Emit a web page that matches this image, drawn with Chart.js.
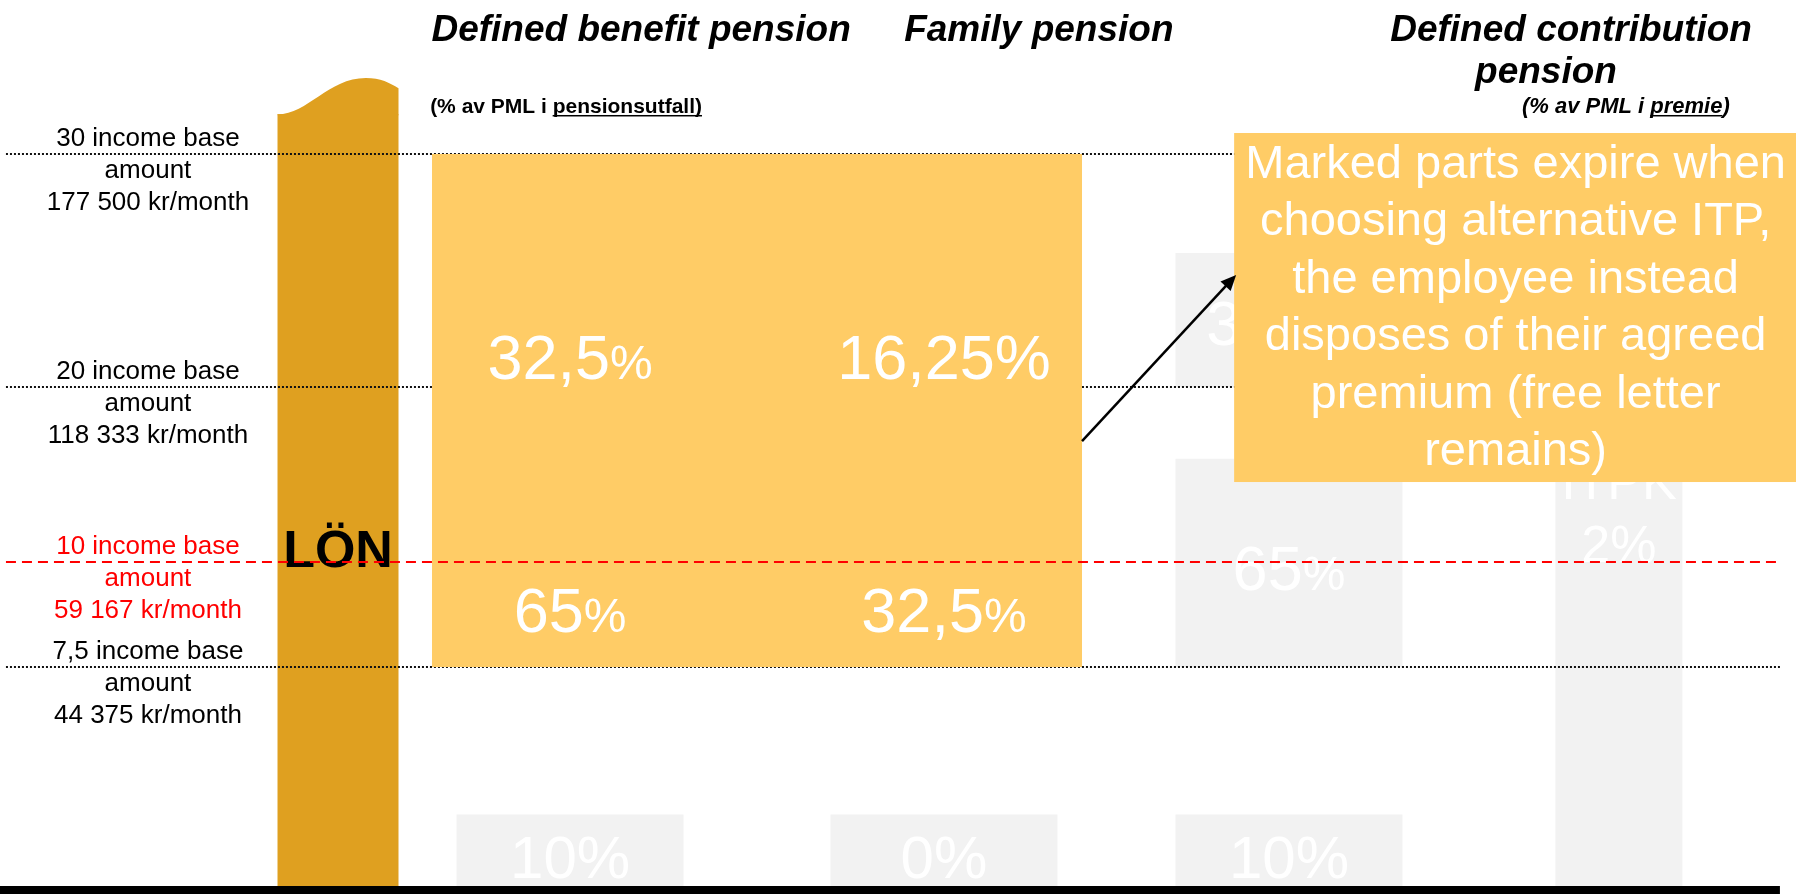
<!DOCTYPE html>
<html>
<head>
<meta charset="utf-8">
<title>Alternative ITP</title>
<script src="https://cdn.jsdelivr.net/npm/chart.js@4.4.1/dist/chart.umd.min.js"></script>
<style>
  html, body { margin: 0; padding: 0; background: #fff; }
  #wrap { position: relative; width: 1796px; height: 894px; }
</style>
</head>
<body>
<div id="wrap"><canvas id="chart"></canvas></div>
<script>
// columns of the slide (x = 0..4)
const columns = ["LÖN", "Defined benefit pension", "Family pension", "Defined contribution pension", "ITPK"];

// salary levels in income base amounts, and the monthly salary for each
const levels = [30, 20, 10, 7.5];
const levelSalary = ["177 500 kr/month", "118 333 kr/month", "59 167 kr/month", "44 375 kr/month"];

// floating bars, in income base amounts
const salaryRange = [0, 31.7];
const expiringRange = [7.5, 30];
const lowBandRange = [0, 2.45];
const dcUpperRange = [20, 25.75];
const dcLowerRange = [7.5, 15.9];
const itpkRange = [0, 16];

// rates written on the boxes (DB, family, DC)
const upperRates = ["32,5%", "16,25%", "32,5%"];  // 20-30 income base amounts
const lowerRates = ["65%", "32,5%", "65%"];        // 7.5-20
const lowRates = ["10%", "0%", "10%"];             // under 7.5
const itpkRate = "2%";

const subtitleDB = ["(% av PML i ", "pensionsutfall)", ""];
const subtitleDC = ["(% av PML i ", "premie", ")"];
const noteLines = [
  "Marked parts expire when",
  "choosing alternative ITP,",
  "the employee instead",
  "disposes of their agreed",
  "premium (free letter",
  "remains)"
];

const FONT = '"Liberation Sans", Arial, sans-serif';
const ORANGE = "#FFCC66";
const GOLD = "#DFA020";
const GHOST = "#F2F2F2";

// linear scale whose value -> pixel mapping is piecewise (the slide is schematic)
class SchematicScale extends Chart.LinearScale {
  static id = "schematic";
  static defaults = {};
  _frac(v) {
    const s = this.options.stops;
    let i = 1;
    while (i < s.length - 1 && v > s[i][0]) i++;
    const [v0, f0] = s[i - 1];
    const [v1, f1] = s[i];
    return f0 + (v - v0) * (f1 - f0) / (v1 - v0);
  }
  getPixelForValue(v) {
    const f = this._frac(v);
    return this.isHorizontal() ? this.left + f * this.width : this.bottom - f * this.height;
  }
  getValueForPixel(p) {
    const f = this.isHorizontal() ? (p - this.left) / this.width : (this.bottom - p) / this.height;
    const s = this.options.stops;
    let i = 1;
    while (i < s.length - 1 && f > s[i][1]) i++;
    const [v0, f0] = s[i - 1];
    const [v1, f1] = s[i];
    return v0 + (f - f0) * (v1 - v0) / (f1 - f0);
  }
}
Chart.register(SchematicScale);

function pct(ctx, text, x, y, size, smallPct, color) {
  const num = text.replace("%", "");
  const pSize = smallPct ? Math.round(size * 0.76) : size;
  ctx.font = size + "px " + FONT;
  const wNum = ctx.measureText(num).width;
  ctx.font = pSize + "px " + FONT;
  const wPct = ctx.measureText("%").width;
  const left = x - (wNum + wPct) / 2;
  ctx.fillStyle = color;
  ctx.textAlign = "left";
  ctx.textBaseline = "alphabetic";
  ctx.font = size + "px " + FONT;
  ctx.fillText(num, left, y);
  ctx.font = pSize + "px " + FONT;
  ctx.fillText("%", left + wNum, y);
}

// text pieces [plain, underlined, plain]
function underlined(ctx, parts, x, y, align) {
  const w = parts.map(p => ctx.measureText(p).width);
  const total = w[0] + w[1] + w[2];
  let left = align === "right" ? x - total : x;
  ctx.textAlign = "left";
  ctx.fillText(parts[0], left, y);
  ctx.fillText(parts[1], left + w[0], y);
  ctx.fillText(parts[2], left + w[0] + w[1], y);
  ctx.fillRect(left + w[0], y + 2, w[1], 1.5);
}

const slide = {
  id: "slide",
  afterDatasetDraw(chart, args) {
    if (chart.data.datasets[args.index].key !== "salary") return;
    // wavy top of the salary bar
    const bar = chart.getDatasetMeta(args.index).data[0];
    const ctx = chart.ctx;
    const W = bar.width, L = bar.x - W / 2, R = bar.x + W / 2, T = bar.y;
    ctx.save();
    ctx.fillStyle = GOLD;
    ctx.beginPath();
    ctx.moveTo(L, T + 1);
    ctx.lineTo(L, T);
    ctx.bezierCurveTo(L + 0.25 * W, T, L + 0.42 * W, T - 0.3 * W, L + 0.73 * W, T - 0.3 * W);
    ctx.bezierCurveTo(L + 0.85 * W, T - 0.3 * W, L + 0.93 * W, T - 0.26 * W, R, T - 0.215 * W);
    ctx.lineTo(R, T + 1);
    ctx.closePath();
    ctx.fill();
    ctx.restore();
  },
  beforeDatasetDraw(chart, args, o) {
    if (chart.data.datasets[args.index].key !== "expiring") return;
    // dotted salary-level lines, under the orange block
    const ctx = chart.ctx, x = chart.scales.x, y = chart.scales.y;
    ctx.save();
    ctx.strokeStyle = "#111";
    ctx.lineWidth = 2;
    ctx.setLineDash([2, 2]);
    levels.forEach(l => {
      if (l === 10) return;
      const py = Math.round(y.getPixelForValue(l));
      ctx.beginPath();
      ctx.moveTo(x.getPixelForValue(o.lineFrom), py);
      ctx.lineTo(x.getPixelForValue(o.lineTo), py);
      ctx.stroke();
    });
    ctx.restore();
  },
  afterDatasetsDraw(chart, args, o) {
    const ctx = chart.ctx, x = chart.scales.x, y = chart.scales.y;
    ctx.save();
    ctx.textBaseline = "alphabetic";

    // headings
    ctx.fillStyle = "#000";
    ctx.textAlign = "center";
    ctx.font = "italic bold 37px " + FONT;
    ctx.fillText(columns[1], x.getPixelForValue(1.19), y.getPixelForValue(34.85));
    ctx.fillText(columns[2], x.getPixelForValue(2.275), y.getPixelForValue(34.85));
    const dc = columns[3].split(" ");
    ctx.fillText(dc.slice(0, -1).join(" "), x.getPixelForValue(3.855), y.getPixelForValue(34.85));
    ctx.fillText(dc[dc.length - 1], x.getPixelForValue(3.779), y.getPixelForValue(33.05));
    ctx.font = "bold 21px " + FONT;
    underlined(ctx, subtitleDB, x.getPixelForValue(0.397), y.getPixelForValue(31.76), "left");
    ctx.font = "italic bold 22px " + FONT;
    underlined(ctx, subtitleDC, x.getPixelForValue(4.336), y.getPixelForValue(31.76), "right");

    // salary level labels on the left
    ctx.textAlign = "center";
    ctx.font = "26px " + FONT;
    const lx = x.getPixelForValue(-0.819);
    levels.forEach((l, i) => {
      const py = y.getPixelForValue(l);
      ctx.fillStyle = l === 10 ? "#FF0000" : "#000";
      ctx.fillText(String(l).replace(".", ",") + " income base", lx, py - 8);
      ctx.fillText("amount", lx, py + 24);
      ctx.fillText(levelSalary[i], lx, py + 56);
    });

    // LÖN
    ctx.fillStyle = "#000";
    ctx.font = "bold 52px " + FONT;
    ctx.fillText(columns[0], x.getPixelForValue(0), y.getPixelForValue(9.88));

    // rates
    const small = [true, false, true];
    const upperAt = [20.34, 20.34, 21.8];
    const lowerAt = [8.33, 8.33, 9.33];
    for (let i = 0; i < 3; i++) {
      const px = x.getPixelForValue(i + 1);
      pct(ctx, upperRates[i], px, y.getPixelForValue(upperAt[i]), 63, small[i], "#fff");
      pct(ctx, lowerRates[i], px, y.getPixelForValue(lowerAt[i]), 63, true, "#fff");
      pct(ctx, lowRates[i], px, y.getPixelForValue(0.27), 60, false, "#fff");
    }
    ctx.fillStyle = "#fff";
    ctx.textAlign = "center";
    ctx.font = "52px " + FONT;
    ctx.fillText(columns[4], x.getPixelForValue(4), y.getPixelForValue(13.6));
    pct(ctx, itpkRate, x.getPixelForValue(4), y.getPixelForValue(10), 52, false, "#fff");

    // red dashed 10 income base amount line
    const ry = Math.round(y.getPixelForValue(10));
    ctx.strokeStyle = "#FF0000";
    ctx.lineWidth = 2;
    ctx.setLineDash([10, 6]);
    ctx.beginPath();
    ctx.moveTo(x.getPixelForValue(o.lineFrom), ry);
    ctx.lineTo(x.getPixelForValue(o.lineTo), ry);
    ctx.stroke();
    ctx.setLineDash([]);

    // bottom baseline
    ctx.fillStyle = "#000";
    const by = y.getPixelForValue(0);
    ctx.fillRect(chart.chartArea.left, by, x.getPixelForValue(o.lineTo) - chart.chartArea.left, 8);

    // note box
    const nx0 = x.getPixelForValue(o.note.x0), nx1 = x.getPixelForValue(o.note.x1);
    const ny0 = y.getPixelForValue(o.note.y1), ny1 = y.getPixelForValue(o.note.y0);
    ctx.fillStyle = ORANGE;
    ctx.fillRect(nx0, ny0, nx1 - nx0, ny1 - ny0);
    ctx.fillStyle = "#fff";
    ctx.textAlign = "center";
    ctx.font = "47px " + FONT;
    noteLines.forEach((t, i) => ctx.fillText(t, (nx0 + nx1) / 2, ny0 + 45 + i * 57.4));

    // arrow from the orange block to the note
    const block = chart.getDatasetMeta(0).data[0];
    const ax0 = block.x + block.width / 2, ay0 = y.getPixelForValue(o.arrow[0]);
    const ax1 = nx0 + 2, ay1 = y.getPixelForValue(o.arrow[1]);
    const ang = Math.atan2(ay1 - ay0, ax1 - ax0);
    const head = 17;
    ctx.strokeStyle = "#000";
    ctx.fillStyle = "#000";
    ctx.lineWidth = 2.5;
    ctx.beginPath();
    ctx.moveTo(ax0, ay0);
    ctx.lineTo(ax1 - Math.cos(ang) * head * 0.8, ay1 - Math.sin(ang) * head * 0.8);
    ctx.stroke();
    ctx.beginPath();
    ctx.moveTo(ax1, ay1);
    ctx.lineTo(ax1 - head * Math.cos(ang - 0.42), ay1 - head * Math.sin(ang - 0.42));
    ctx.lineTo(ax1 - head * Math.cos(ang + 0.42), ay1 - head * Math.sin(ang + 0.42));
    ctx.closePath();
    ctx.fill();
    ctx.restore();
  }
};

new Chart(document.getElementById("chart"), {
  type: "bar",
  data: {
    datasets: [
      {
        key: "expiring",
        label: "Expires with alternative ITP",
        data: [{ x: 1.5, y: expiringRange }],
        backgroundColor: ORANGE,
        barThickness: 650,
        order: 0
      },
      {
        label: "Under 7,5 income base amounts",
        data: [1, 2, 3].map(c => ({ x: c, y: lowBandRange })),
        backgroundColor: GHOST,
        barThickness: 227,
        order: 1
      },
      {
        label: "Defined contribution 20-30",
        data: [{ x: 3, y: dcUpperRange }],
        backgroundColor: GHOST,
        barThickness: 227,
        order: 1
      },
      {
        label: "Defined contribution 7,5-20",
        data: [{ x: 3, y: dcLowerRange }],
        backgroundColor: GHOST,
        barThickness: 227,
        order: 1
      },
      {
        label: "ITPK",
        data: [{ x: 4, y: itpkRange }],
        backgroundColor: GHOST,
        barThickness: 127,
        order: 1
      },
      {
        key: "salary",
        label: "LÖN",
        data: [{ x: 0, y: salaryRange }],
        backgroundColor: GOLD,
        barThickness: 121,
        order: 2
      }
    ]
  },
  options: {
    responsive: true,
    maintainAspectRatio: false,
    animation: false,
    events: [],
    layout: { padding: { left: 0, right: 0, top: 0, bottom: 8 } },
    datasets: { bar: { grouped: false, inflateAmount: 0, borderWidth: 0 } },
    scales: {
      x: {
        type: "schematic",
        display: false,
        min: -1.5,
        max: 4.6,
        stops: [[0, 0.1882], [1, 0.3174], [2, 0.5256], [3, 0.7177], [4, 0.9014]]
      },
      y: {
        type: "schematic",
        display: false,
        min: 0,
        max: 36,
        stops: [[0, 0], [7.5, 0.2472], [10, 0.3657], [20, 0.5632], [30, 0.8262]]
      }
    },
    plugins: {
      legend: { display: false },
      tooltip: { enabled: false },
      slide: {
        lineFrom: -1.431,
        lineTo: 4.488,
        note: { x0: 2.841, x1: 4.54, y0: 14.57, y1: 30.9 },
        arrow: [16.91, 24.81]
      }
    }
  },
  plugins: [slide]
});
</script>
</body>
</html>
